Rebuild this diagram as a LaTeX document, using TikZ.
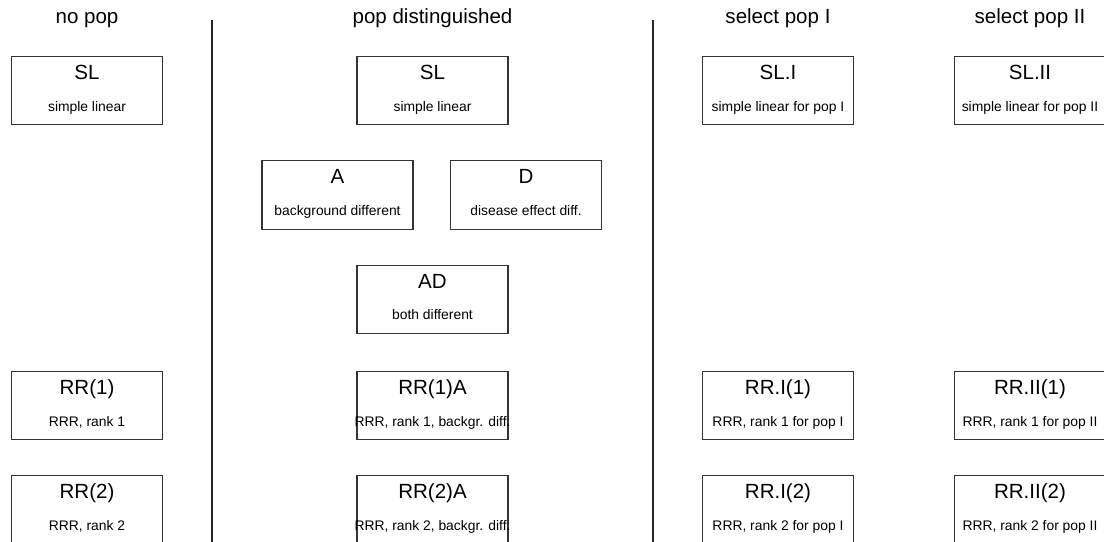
\documentclass[tikz,border=0pt]{standalone}
\usepackage{fontspec}
\setmainfont{Liberation Sans}

% small second line of a box, kept from widening the box
\newcommand{\subline}[1]{{\fontsize{10.4}{12.5}\selectfont\makebox[0pt]{\strut #1}}}

\begin{document}
\begin{tikzpicture}[
  x=0.75pt, y=-0.75pt,
  box/.style={draw=black!80, line width=0.9pt, minimum width=113.25pt, minimum height=51.5pt,
    inner sep=0pt, align=center, font=\fontsize{15.4}{23.8}\selectfont},
  head/.style={anchor=base, font=\fontsize{15.4}{18}\selectfont},
  divider/.style={draw=black!85, line width=0.9pt}
]
  \clip (0,0) rectangle (1104,542);

  % column headings
  \node[head] (hnopop) at (87,24) {no pop};
  \node[head] (hpopdist) at (432.5,24) {pop distinguished};
  \node[head] (hpopI) at (778,24) {select pop I};
  \node[head] (hpopII) at (1030,24) {select pop II};

  \draw[divider] (212,20) -- (212,542);
  \draw[divider] (653,20) -- (653,542);

  % no pop
  \node[box] (sl) at (87,90.5) {SL\\\subline{simple linear}};
  \node[box] (rr1) at (87,405.5) {RR(1)\\\subline{RRR, rank 1}};
  \node[box] (rr2) at (87,509.5) {RR(2)\\\subline{RRR, rank 2}};

  % pop distinguished
  \node[box] (sldist) at (432.5,90.5) {SL\\\subline{simple linear}};
  \node[box] (a) at (337.5,195) {A\\\subline{background different}};
  \node[box] (d) at (526,195) {D\\\subline{disease effect diff.}};
  \node[box] (ad) at (432.5,299.5) {AD\\\subline{both different}};
  \node[box] (rr1a) at (432.5,405.5) {RR(1)A\\\subline{RRR, rank 1, backgr. diff.}};
  \node[box] (rr2a) at (432.5,509.5) {RR(2)A\\\subline{RRR, rank 2, backgr. diff.}};

  % select pop I
  \node[box] (slI) at (778,90.5) {SL.I\\\subline{simple linear for pop I}};
  \node[box] (rrI1) at (778,405.5) {RR.I(1)\\\subline{RRR, rank 1 for pop I}};
  \node[box] (rrI2) at (778,509.5) {RR.I(2)\\\subline{RRR, rank 2 for pop I}};

  % select pop II
  \node[box] (slII) at (1030,90.5) {SL.II\\\subline{simple linear for pop II}};
  \node[box] (rrII1) at (1030,405.5) {RR.II(1)\\\subline{RRR, rank 1 for pop II}};
  \node[box] (rrII2) at (1030,509.5) {RR.II(2)\\\subline{RRR, rank 2 for pop II}};
\end{tikzpicture}
\end{document}
